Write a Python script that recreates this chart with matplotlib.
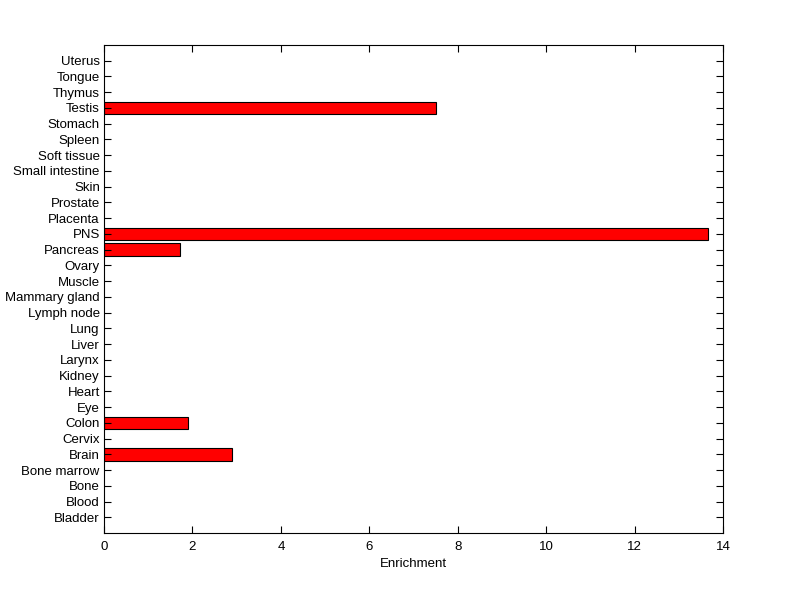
import matplotlib
matplotlib.use("Agg")
import matplotlib.pyplot as plt
import numpy as np

# tissues, bottom to top
tissues = ['Bladder', 'Blood', 'Bone', 'Bone marrow', 'Brain', 'Cervix', 'Colon',
           'Eye', 'Heart', 'Kidney', 'Larynx', 'Liver', 'Lung', 'Lymph node',
           'Mammary gland', 'Muscle', 'Ovary', 'Pancreas', 'PNS', 'Placenta',
           'Prostate', 'Skin', 'Small intestine', 'Soft tissue', 'Spleen',
           'Stomach', 'Testis', 'Thymus', 'Tongue', 'Uterus']
enrichment = [0, 0, 0, 0, 2.9, 0, 1.9,
              0, 0, 0, 0, 0, 0, 0,
              0, 0, 0, 1.72, 13.65, 0,
              0, 0, 0, 0, 0,
              0, 7.51, 0, 0, 0]
x_ticks = [0, 2, 4, 6, 8, 10, 12, 14]

plt.rcParams['font.family'] = ['Liberation Sans', 'DejaVu Sans']

fig = plt.figure(figsize=(8, 5.99), dpi=100)
ax = fig.add_axes([0.13, 0.11, 0.774, 0.815])

pos = np.arange(1, len(tissues) + 1)
vals = np.array(enrichment)
mask = vals > 0
ax.barh(pos[mask], vals[mask], height=0.8, color='#ff0000', edgecolor='black', linewidth=0.8)

ax.set_xlim(0, 14)
ax.set_ylim(0, len(tissues) + 1)
ax.set_xticks(x_ticks)
ax.set_yticks(pos)
ax.set_yticklabels(tissues)
ax.tick_params(direction='in', length=5, width=0.8, labelsize=9.5, top=True, right=True, pad=3)
ax.tick_params(axis='x', pad=6)
for s in ax.spines.values():
    s.set_linewidth(0.8)
ax.set_xlabel('Enrichment', fontsize=9.5, labelpad=3)

fig.savefig('out.png', dpi=100, facecolor='white')
